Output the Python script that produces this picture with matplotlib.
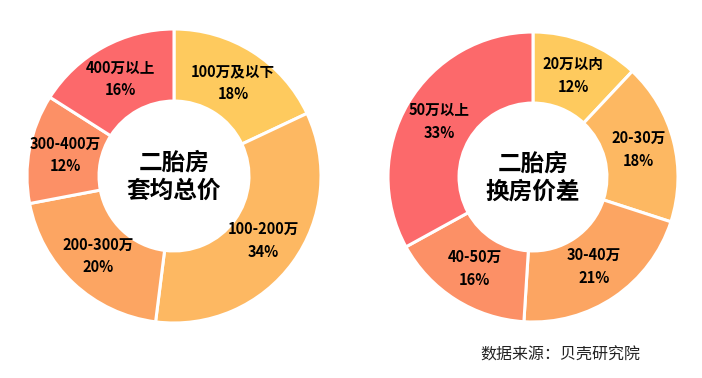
import matplotlib.pyplot as plt
import numpy as np

plt.rcParams['font.family'] = ['Noto Sans CJK SC', 'DejaVu Sans']

# 左图：二胎房套均总价
left_labels = ['100万及以下', '100-200万', '200-300万', '300-400万', '400万以上']
left_values = [18, 34, 20, 12, 16]
# 右图：二胎房换房价差
right_labels = ['20万以内', '20-30万', '30-40万', '40-50万', '50万以上']
right_values = [12, 18, 21, 16, 33]

colors = ['#FECA5E', '#FDB862', '#FCA562', '#FC9066', '#FC696B']

W, H = 702, 378


def donut(rect, labels, values, title):
    # rect: (x0, y0, size) in pixels, top-left origin
    x0, y0, s = rect
    ax = plt.gcf().add_axes([x0 / W, 1 - (y0 + s) / H, s / W, s / H])
    wedges, _ = ax.pie(values, colors=colors, startangle=90, counterclock=False,
                       radius=1, wedgeprops=dict(width=0.49, edgecolor='white', linewidth=2.2))
    ax.set_xlim(-1, 1)
    ax.set_ylim(-1, 1)
    ax.set_aspect('equal')
    ax.axis('off')

    total = sum(values)
    start = 90.0
    for lab, v in zip(labels, values):
        ang = np.deg2rad(start - v / total * 360 / 2)
        start -= v / total * 360
        r = 0.75
        x, y = r * np.cos(ang), r * np.sin(ang)
        ax.text(x, y + 0.08, lab, ha='center', va='center', fontsize=10.5,
                fontweight='bold', color='black')
        ax.text(x, y - 0.075, f'{v}%', ha='center', va='center', fontsize=10.5,
                fontweight='bold', color='black')

    ax.text(0, 0.09, title[0], ha='center', va='center', fontsize=17,
            fontweight='bold')
    ax.text(0, -0.1, title[1], ha='center', va='center', fontsize=17,
            fontweight='bold')


fig = plt.figure(figsize=(W / 100, H / 100), dpi=100)
donut((27, 29, 294), left_labels, left_values, ('二胎房', '套均总价'))
donut((388, 32, 290), right_labels, right_values, ('二胎房', '换房价差'))
fig.text(480 / W, 1 - 355 / H, '数据来源：贝壳研究院', ha='left', va='center',
         fontsize=11.5, color='#222222')

fig.savefig('out.png', dpi=100)
